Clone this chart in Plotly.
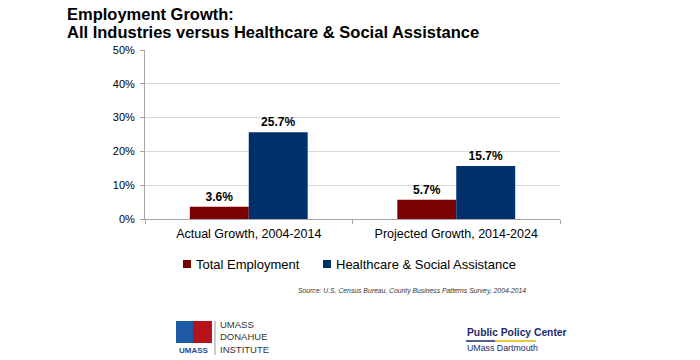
import plotly.graph_objects as go

categories = ["Actual Growth, 2004-2014", "Projected Growth, 2014-2024"]
total_employment = [3.6, 5.7]
healthcare = [25.7, 15.7]
series_names = ["Total Employment", "Healthcare & Social Assistance"]
series_colors = ["#7B0000", "#00306B"]
y_ticks = [0, 10, 20, 30, 40, 50]
y_tick_labels = ["0%", "10%", "20%", "30%", "40%", "50%"]

FONT = "Liberation Sans, Arial, sans-serif"
L, R, T, B = 145, 560, 50, 219
W, H = 700, 360


def px(x):
    return (x - L) / (R - L)


def py(y):
    return (B - y) / (B - T)


fig = go.Figure()
for name, vals, col in zip(series_names, [total_employment, healthcare], series_colors):
    fig.add_trace(go.Bar(
        x=categories, y=vals, name=name, marker_color=col,
        marker_line_width=0,
        text=[f"<b>{v:.1f}%</b>" for v in vals], textposition="outside",
        textfont=dict(family=FONT, size=12, color="#000000"),
        cliponaxis=False, showlegend=False, hoverinfo="skip",
    ))

annotations = [
    dict(text="<b>Employment Growth:</b>", x=px(65), y=py(14.5), xanchor="left", yanchor="middle",
         font=dict(family=FONT, size=16.5, color="#000")),
    dict(text="<b>All Industries versus Healthcare & Social Assistance</b>", x=px(65), y=py(31.5),
         xanchor="left", yanchor="middle", font=dict(family=FONT, size=16.5, color="#000")),
    dict(text="<i>Source: U.S. Census Bureau, County Business Patterns Survey, 2004-2014</i>",
         x=px(528), y=py(291), xanchor="right", yanchor="middle",
         font=dict(family=FONT, size=6.8, color="#333")),
    dict(text="<b>UMASS</b>", x=px(194), y=py(350), xanchor="center", yanchor="middle",
         font=dict(family=FONT, size=8, color="#1F4E9C")),
    dict(text="UMASS<br>DONAHUE<br>INSTITUTE", x=px(218), y=py(337), xanchor="left", yanchor="middle",
         align="left", font=dict(family=FONT, size=9.5, color="#333")),
    dict(text="<b>Public Policy Center</b>", x=px(465), y=py(332), xanchor="left", yanchor="middle",
         font=dict(family=FONT, size=10.3, color="#1B2A6B")),
    dict(text="UMass Dartmouth", x=px(465), y=py(348), xanchor="left", yanchor="middle",
         font=dict(family=FONT, size=8.8, color="#1B2A6B")),
]

# manual legend
legend_x = [(183, 194), (323, 334)]
shapes = []
for (sx, tx), name, col in zip(legend_x, series_names, series_colors):
    shapes.append(dict(type="rect", x0=px(sx), x1=px(sx + 8), y0=py(268), y1=py(260),
                       fillcolor=col, line_width=0))
    annotations.append(dict(text=name, x=px(tx), y=py(264), xanchor="left", yanchor="middle",
                            font=dict(family=FONT, size=13, color="#000")))

for a in annotations:
    a.update(xref="paper", yref="paper", showarrow=False)

shapes += [
    dict(type="rect", x0=px(176), x1=px(193), y0=py(321), y1=py(343), fillcolor="#1F5AA6", line_width=0),
    dict(type="rect", x0=px(193), x1=px(212), y0=py(321), y1=py(343), fillcolor="#B5121B", line_width=0),
    dict(type="line", x0=px(215), x1=px(215), y0=py(321), y1=py(355), line=dict(color="#999", width=1)),
    dict(type="line", x0=px(466), x1=px(495), y0=py(341), y1=py(341), line=dict(color="#1B2A6B", width=1.5)),
    dict(type="line", x0=px(495), x1=px(536), y0=py(341), y1=py(341), line=dict(color="#F2B400", width=1.5)),
]
for s in shapes:
    s.update(xref="paper", yref="paper")

fig.update_layout(
    width=W, height=H,
    margin=dict(l=L, r=W - R, t=T, b=H - B, pad=0),
    paper_bgcolor="white", plot_bgcolor="white",
    barmode="group", bargap=0.432, bargroupgap=0,
    font=dict(family=FONT, color="#000"),
    showlegend=False, hovermode=False,
    annotations=annotations, shapes=shapes,
    xaxis=dict(showline=True, linecolor="#A6A6A6", linewidth=1, ticks="outside", tickson="boundaries",
               tickcolor="#A6A6A6", ticklen=4, tickfont=dict(family=FONT, size=12.5, color="#000"),
               ticklabelstandoff=3, showgrid=False, fixedrange=True),
    yaxis=dict(range=[0, 50], tickvals=y_ticks, ticktext=y_tick_labels, showline=True,
               linecolor="#A6A6A6", linewidth=1, gridcolor="#D9D9D9", gridwidth=1,
               ticks="outside", tickcolor="#A6A6A6", ticklen=4, zeroline=False, fixedrange=True,
               ticklabelstandoff=3, tickfont=dict(family=FONT, size=11, color="#000")),
)

fig.write_html("out.html", config={"displayModeBar": False, "staticPlot": True},
               post_script="document.body.style.margin='0';document.body.style.overflow='hidden';")
